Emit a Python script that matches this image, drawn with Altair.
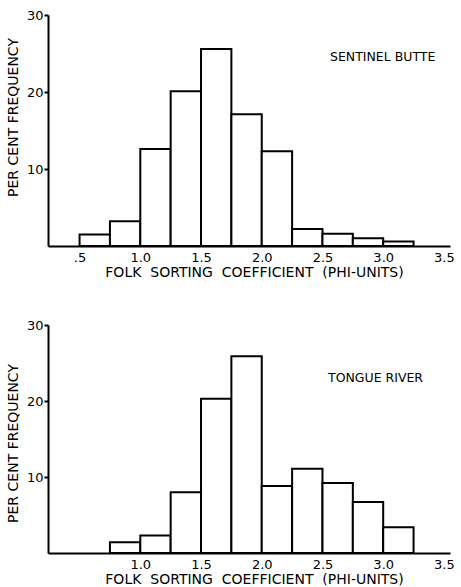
import altair as alt
import pandas as pd

# Sentinel Butte (upper panel)
top_bin_start = [0.5, 0.75, 1.0, 1.25, 1.5, 1.75, 2.0, 2.25, 2.5, 2.75, 3.0]
top_freq = [1.5, 3.2, 12.6, 20.1, 25.6, 17.1, 12.3, 2.2, 1.6, 1.0, 0.6]
top_ticks = [0.5, 1.0, 1.5, 2.0, 2.5, 3.0, 3.5]

# Tongue River (lower panel)
bot_bin_start = [0.75, 1.0, 1.25, 1.5, 1.75, 2.0, 2.25, 2.5, 2.75, 3.0]
bot_freq = [1.4, 2.3, 8.0, 20.3, 25.9, 8.8, 11.1, 9.2, 6.7, 3.4]
bot_ticks = [1.0, 1.5, 2.0, 2.5, 3.0, 3.5]

y_ticks = [10, 20, 30]
BIN = 0.25
FONT = "DejaVu Sans"
NB = "\u00a0"
X_TITLE = (NB * 2).join(["FOLK", "SORTING", "COEFFICIENT", "(PHI-UNITS)"])


def panel(starts, freqs, ticks, label, lx, ly, h, title_y):
    df = pd.DataFrame({
        "start": starts,
        "end": [s + BIN for s in starts],
        "freq": freqs,
    })
    x = alt.X(
        "start:Q",
        scale=alt.Scale(domain=[0.24, 3.55], nice=False, zero=False),
        axis=alt.Axis(
            values=ticks,
            title=X_TITLE,
            labelExpr="datum.value == 0.5 ? '.5' : format(datum.value, '.1f')",
            ticks=False,
            labelPadding=5,
            titlePadding=1,
            titleX=206,
            grid=False,
        ),
    )
    y = alt.Y(
        "freq:Q",
        scale=alt.Scale(domain=[0, 30], nice=False),
        axis=alt.Axis(
            values=y_ticks,
            title="PER CENT FREQUENCY",
            tickSize=4,
            labelPadding=1,
            titlePadding=6,
            titleY=title_y,
            grid=False,
        ),
    )
    bars = alt.Chart(df).mark_bar(
        fill="white", stroke="black", strokeWidth=2
    ).encode(x=x, x2="end", y=y, y2=alt.datum(0))
    text = alt.Chart(pd.DataFrame({"t": [label]})).mark_text(
        align="left", baseline="middle", font=FONT, fontSize=12.5, color="black"
    ).encode(x=alt.value(lx), y=alt.value(ly), text="t:N")
    return alt.layer(bars, text).properties(width=402, height=h)


top = panel(top_bin_start, top_freq, top_ticks, "SENTINEL BUTTE", 282, 42, 231, 102)
bot = panel(bot_bin_start, bot_freq, bot_ticks, "TONGUE RIVER", 280, 53, 228, 118)

chart = alt.vconcat(top, bot, spacing=40).properties(
    padding={"left": 6, "top": 9, "right": 0, "bottom": 0},
    background="white",
).configure_view(stroke=None).configure_axis(
    domainColor="black",
    domainWidth=2,
    tickColor="black",
    tickWidth=2,
    grid=False,
    labelColor="black",
    titleColor="black",
    labelFont=FONT,
    titleFont=FONT,
    labelFontSize=13,
    titleFontSize=14,
    titleFontWeight="normal",
)

chart.save("out.html", embed_options={"renderer": "svg", "actions": False})
